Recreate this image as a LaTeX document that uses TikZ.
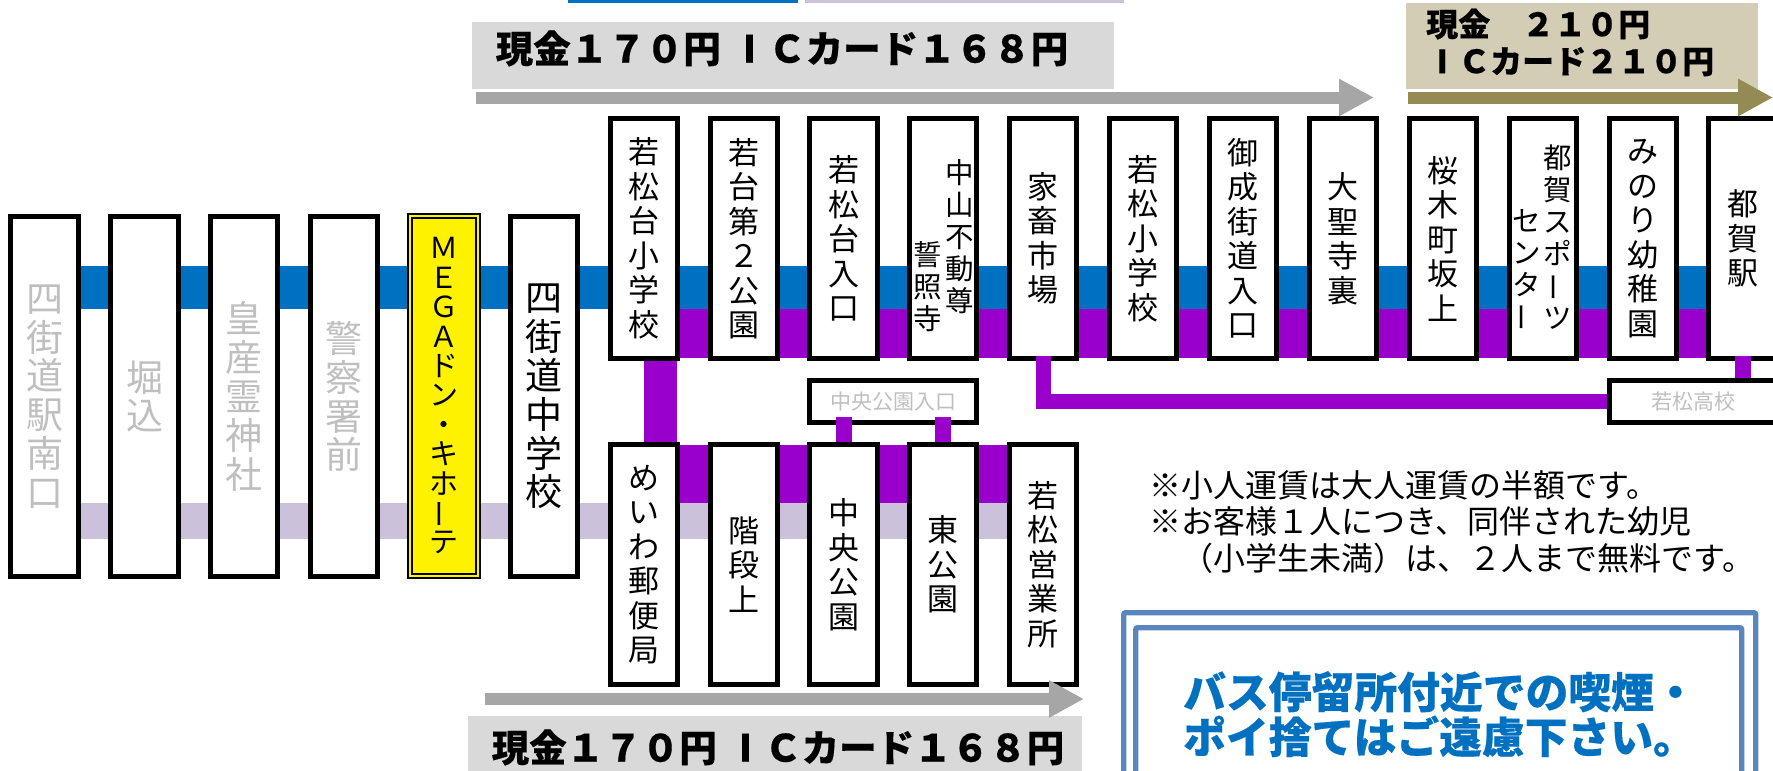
\documentclass[tikz,border=0pt]{standalone}
\usepackage{fontspec}
\usepackage{graphicx}
\newfontfamily\jp{Noto Sans CJK JP}
\usetikzlibrary{arrows.meta,backgrounds}
\definecolor{lineblue}{HTML}{0070C0}
\definecolor{linepurple}{HTML}{9900CC}
\definecolor{linelav}{HTML}{CCC1DA}
\definecolor{faregrey}{HTML}{D9D9D9}
\definecolor{arrowgrey}{HTML}{A6A6A6}
\definecolor{fareolive}{HTML}{D2CDB4}
\definecolor{arrowolive}{HTML}{948A54}
\definecolor{framecol}{HTML}{5A86C0}
\definecolor{dimtext}{HTML}{BFBFBF}
\newcommand{\heavy}{\jp\bfseries\addfontfeature{FakeBold=0.4}}
\newcommand{\vbar}{\raisebox{.12em}{\smash{\rotatebox[origin=c]{90}{ー}}}}
\newcommand{\wideI}{\makebox[1em][c]{I}}
\tikzset{
  x=1pt,y=-1pt,
  stopbase/.style={draw=black,line width=5.3pt,fill=white,inner sep=0pt,align=center,minimum width=67.5pt},
  tall/.style={stopbase,minimum height=359.7pt,font=\jp\fontsize{37}{38.8}\selectfont},
  short/.style={stopbase,minimum height=239.7pt,font=\jp\fontsize{31}{34.5}\selectfont},
  dim/.style={text=dimtext},
  mega/.style={draw=black,line width=2.3pt,double=yellow,double distance=1.8pt,fill=yellow,inner sep=0pt,align=center,
    minimum width=67.6pt,minimum height=359.6pt,font=\jp\fontsize{29}{29.4}\selectfont},
  colnarrow/.style={inner sep=0pt,align=center,font=\jp\fontsize{28.5}{32}\selectfont},
  smallstop/.style={draw=black,line width=5.3pt,fill=white,inner sep=0pt,minimum height=41.7pt,text=dimtext,font=\jp\fontsize{21}{24}\selectfont},
  band/.style={line width=#1,line cap=butt},
  fare/.style={inner sep=0pt,font=\heavy\fontsize{37.5}{40}\selectfont},
  farebox/.style={inner sep=0pt,anchor=north west,fill=#1},
  farearrow/.style={draw=#1,line width=12pt,-{Triangle[length=35pt,width=35pt,fill=#1]}},
  framebox/.style={draw=framecol,line width=5.4pt,rounded corners=2pt,inner sep=0pt,anchor=north west},
}
\begin{document}
\begin{tikzpicture}
\useasboundingbox (0,0) rectangle (1773,771);
\clip (0,0) rectangle (1773,771);
% left row
\node[tall,dim] (s1) at (44.5,396.5) {四\\街\\道\\駅\\南\\口};
\node[tall,dim] (s2) at (144.5,396.5) {堀\\込};
\node[tall,dim] (s3) at (244,396.5) {皇\\産\\霊\\神\\社};
\node[tall,dim] (s4) at (344,396.5) {警\\察\\署\\前};
\node[mega] (s5) at (444,396) {Ｍ\\Ｅ\\Ｇ\\Ａ\\ド\\ン\\・\\キ\\ホ\\\vbar\\テ};
\node[tall] (s6) at (544,396.5) {四\\街\\道\\中\\学\\校};
% upper row
\node[short] (u1) at (644,238.5) {若\\松\\台\\小\\学\\校};
\node[short] (u2) at (744,238.5) {若\\台\\第\\２\\公\\園};
\node[short] (u3) at (843.5,238.5) {若\\松\\台\\入\\口};
\node[short] (u4) at (943,238.5) {};
\node[colnarrow] (u4a) at (960,237) {中\\山\\不\\動\\尊};
\node[colnarrow] (u4b) at (927.5,286.5) {誓\\照\\寺};
\node[short] (u5) at (1043,238.5) {家\\畜\\市\\場};
\node[short] (u6) at (1143,238.5) {若\\松\\小\\学\\校};
\node[short] (u7) at (1243,238.5) {御\\成\\街\\道\\入\\口};
\node[short] (u8) at (1343,238.5) {大\\聖\\寺\\裏};
\node[short] (u9) at (1443,238.5) {桜\\木\\町\\坂\\上};
\node[short] (u10) at (1543,238.5) {};
\node[colnarrow] (u10a) at (1558,237.5) {都\\賀\\ス\\ポ\\\vbar\\ツ};
\node[colnarrow] (u10b) at (1526.5,268) {セ\\ン\\タ\\\vbar};
\node[short] (u11) at (1643,238.5) {み\\の\\り\\幼\\稚\\園};
\node[short] (u12) at (1742.5,238.5) {都\\賀\\駅};
% lower row
\node[short] (l1) at (644,564.5) {め\\い\\わ\\郵\\便\\局};
\node[short] (l2) at (744,564.5) {階\\段\\上};
\node[short] (l3) at (843.5,564.5) {中\\央\\公\\園};
\node[short] (l4) at (943,564.5) {東\\公\\園};
\node[short] (l5) at (1043,564.5) {若\\松\\営\\業\\所};
% small stops
\node[smallstop,minimum width=166.7pt] (kouen) at (893,401.5) {中央公園入口};
\node[smallstop,minimum width=166.7pt] (koukou) at (1693,401.5) {若松高校};
% branch links
\draw[linepurple,band=16pt] ([yshift=8pt]kouen.south -| l3.north) -- (l3.north);
\draw[linepurple,band=16pt] ([yshift=8pt]kouen.south -| l4.north) -- (l4.north);
\draw[linepurple,band=15pt] ([yshift=5pt]u5.south) |- (koukou.west);
\draw[linepurple,band=16pt] ([yshift=5pt]u12.south) -- (u12.south |- koukou.north);
% fare boxes and arrows
\node[farebox=faregrey,minimum width=642pt,minimum height=67pt] (f1box) at (472,22) {};
\node[fare] (f1) at (782,48.5) {現金１７０円\hspace{10pt}\wideI Ｃカード１６８円};
\node[farebox=faregrey,minimum width=614pt,minimum height=60pt] (f2box) at (468,716) {};
\node[fare] (f2) at (778,747.5) {現金１７０円\hspace{10pt}\wideI Ｃカード１６８円};
\node[farebox=fareolive,minimum width=352pt,minimum height=86pt] (f3box) at (1406,3) {};
\node[fare,anchor=west,align=left,font=\heavy\fontsize{32}{37}\selectfont] (f3) at (1426,42.5) {現金　２１０円\\\wideI Ｃカード２１０円};
\coordinate (a1s) at (476,97.5); \coordinate (a1e) at (1374,97.5);
\coordinate (a2s) at (485,699); \coordinate (a2e) at (1084,699);
\coordinate (a3s) at (1408,97.5); \coordinate (a3e) at (1773,97.5);
\draw[farearrow=arrowgrey] (a1s) -- (a1e);
\draw[farearrow=arrowgrey] (a2s) -- (a2e);
\draw[farearrow=arrowolive] (a3s) -- (a3e);
% top edge bars
\fill[lineblue] (568,0) rectangle (798,3);
\fill[linelav] (805,0) rectangle (1124,3);
% notes
\node[inner sep=0pt,anchor=north west,align=left,font=\jp\fontsize{32}{36.5}\selectfont] (note) at (1149,470) {※小人運賃は大人運賃の半額です。\\※お客様１人につき、同伴された幼児\\　（小学生未満）は、２人まで無料です。};
\node[framebox,minimum width=632pt,minimum height=400pt] (frameout) at (1121,610) {};
\node[framebox,minimum width=606pt,minimum height=400pt] (framein) at (1133,625) {};
\node[inner sep=0pt,anchor=north west,align=left,text=lineblue,font=\heavy\fontsize{42.8}{45}\selectfont] (smoke) at (1183,671) {バス停留所付近での喫煙・\\ポイ捨てはご遠慮下さい。};
% route bands
\begin{pgfonlayer}{background}
\fill[white] (0,0) rectangle (1773,771);
\coordinate (blueY) at (0,287.5);
\coordinate (lavY) at (0,521);
\coordinate (purU) at (0,333.5);
\coordinate (purL) at (0,474);
\draw[linelav,band=36pt] (s1 |- lavY) -- (l5 |- lavY);
\draw[lineblue,band=43pt] (s1 |- blueY) -- (u12 |- blueY);
\draw[linepurple,band=49pt] (u1 |- purU) -- (u12 |- purU);
\draw[linepurple,band=58pt] (l1 |- purL) -- (l5 |- purL);
\draw[linepurple,band=33pt] ([xshift=16.5pt]u1.south) -- ([xshift=16.5pt]l1.north);
\end{pgfonlayer}
\end{tikzpicture}
\end{document}
